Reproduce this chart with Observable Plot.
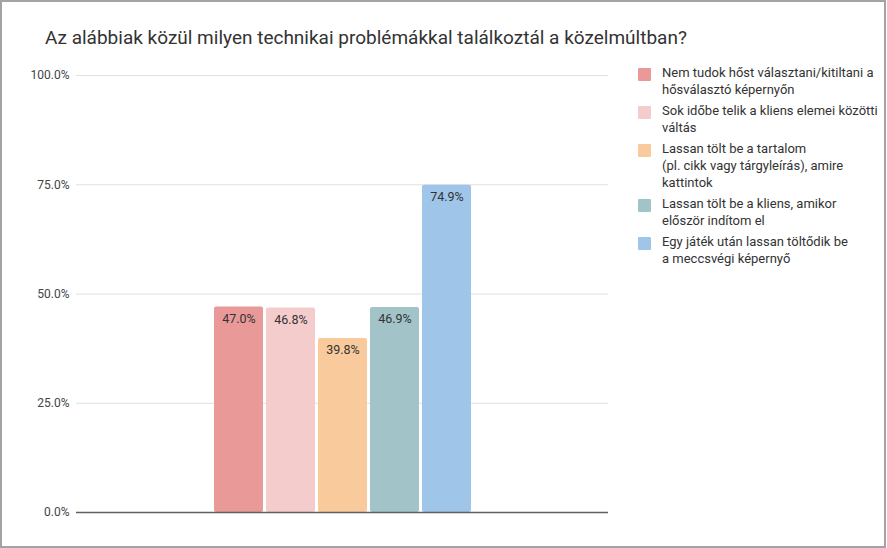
<!DOCTYPE html>
<html>
<head>
<meta charset="utf-8">
<script src="https://cdn.jsdelivr.net/npm/d3@7"></script>
<script src="https://cdn.jsdelivr.net/npm/@observablehq/plot@0.6"></script>
<style>
  html, body { margin: 0; padding: 0; background: #fff; }
  body { width: 887px; height: 548px; position: relative; overflow: hidden; font-family: Roboto, "Noto Sans", sans-serif; }
  #frame { position: absolute; left: 0; top: 0; width: 886px; height: 548px; box-sizing: border-box; border: 2px solid #a3a3a3; pointer-events: none; z-index: 5; }
  #title { position: absolute; left: 45px; top: 26px; font-size: 19px; color: #333; white-space: nowrap; }
  #chart { position: absolute; left: 0; top: 0; }
  #legend { position: absolute; left: 638px; top: 64px; display: flex; flex-direction: column; gap: 4px; }
  .item { display: flex; align-items: flex-start; }
  .sw { width: 13px; height: 13px; margin-top: 4px; margin-right: 11px; flex: none; border-radius: 1px; }
  .lab { font-size: 13px; line-height: 17px; color: #333; white-space: pre-line; }
</style>
</head>
<body>
<div id="frame"></div>
<div id="title">Az alábbiak közül milyen technikai problémákkal találkoztál a közelmúltban?</div>
<div id="chart"></div>
<div id="legend"></div>
<script>
const categories = [
  "Nem tudok hőst választani/kitiltani a\nhősválasztó képernyőn",
  "Sok időbe telik a kliens elemei közötti\nváltás",
  "Lassan tölt be a tartalom\n(pl. cikk vagy tárgyleírás), amire\nkattintok",
  "Lassan tölt be a kliens, amikor\nelőször indítom el",
  "Egy játék után lassan töltődik be\na meccsvégi képernyő"
];
const values = [0.470, 0.468, 0.398, 0.469, 0.749];
const colors = ["#ea9999", "#f4cccc", "#f9cb9c", "#a2c4c9", "#9fc5e8"];
const yTicks = [0, 0.25, 0.5, 0.75, 1];

const data = categories.map((c, i) => ({cat: c, value: values[i], color: colors[i]}));
const fmt = d3.format(".1%");

const chart = Plot.plot({
  width: 887,
  height: 548,
  marginTop: 75,
  marginBottom: 36,
  marginLeft: 76,
  marginRight: 279,
  style: {fontFamily: "Roboto, sans-serif", background: "transparent"},
  x: {domain: categories, insetLeft: 137, insetRight: 137, paddingInner: 0.06, paddingOuter: 0, axis: null},
  y: {domain: [0, 1], axis: null},
  marks: [
    Plot.ruleY(yTicks.filter(d => d > 0), {stroke: "#e0e0e0", strokeWidth: 1}),
    Plot.barY(data, {x: "cat", y: "value", fill: "color", rx: 2}),
    Plot.ruleY([0], {stroke: "#5f5f5f", strokeWidth: 1.4}),
    Plot.text(yTicks, {x: null, y: d => d, text: d => fmt(d), frameAnchor: "left", textAnchor: "end", dx: -7, fontSize: 12, fill: "#444"}),
    Plot.text(data, {x: "cat", y: "value", text: d => fmt(d.value), lineAnchor: "top", dy: 7, fontSize: 12.5, fill: "#333"})
  ]
});
document.getElementById("chart").appendChild(chart);

const legend = document.getElementById("legend");
data.forEach(d => {
  const item = document.createElement("div");
  item.className = "item";
  const sw = document.createElement("div");
  sw.className = "sw";
  sw.style.background = d.color;
  const lab = document.createElement("div");
  lab.className = "lab";
  lab.textContent = d.cat;
  item.appendChild(sw);
  item.appendChild(lab);
  legend.appendChild(item);
});
</script>
</body>
</html>
